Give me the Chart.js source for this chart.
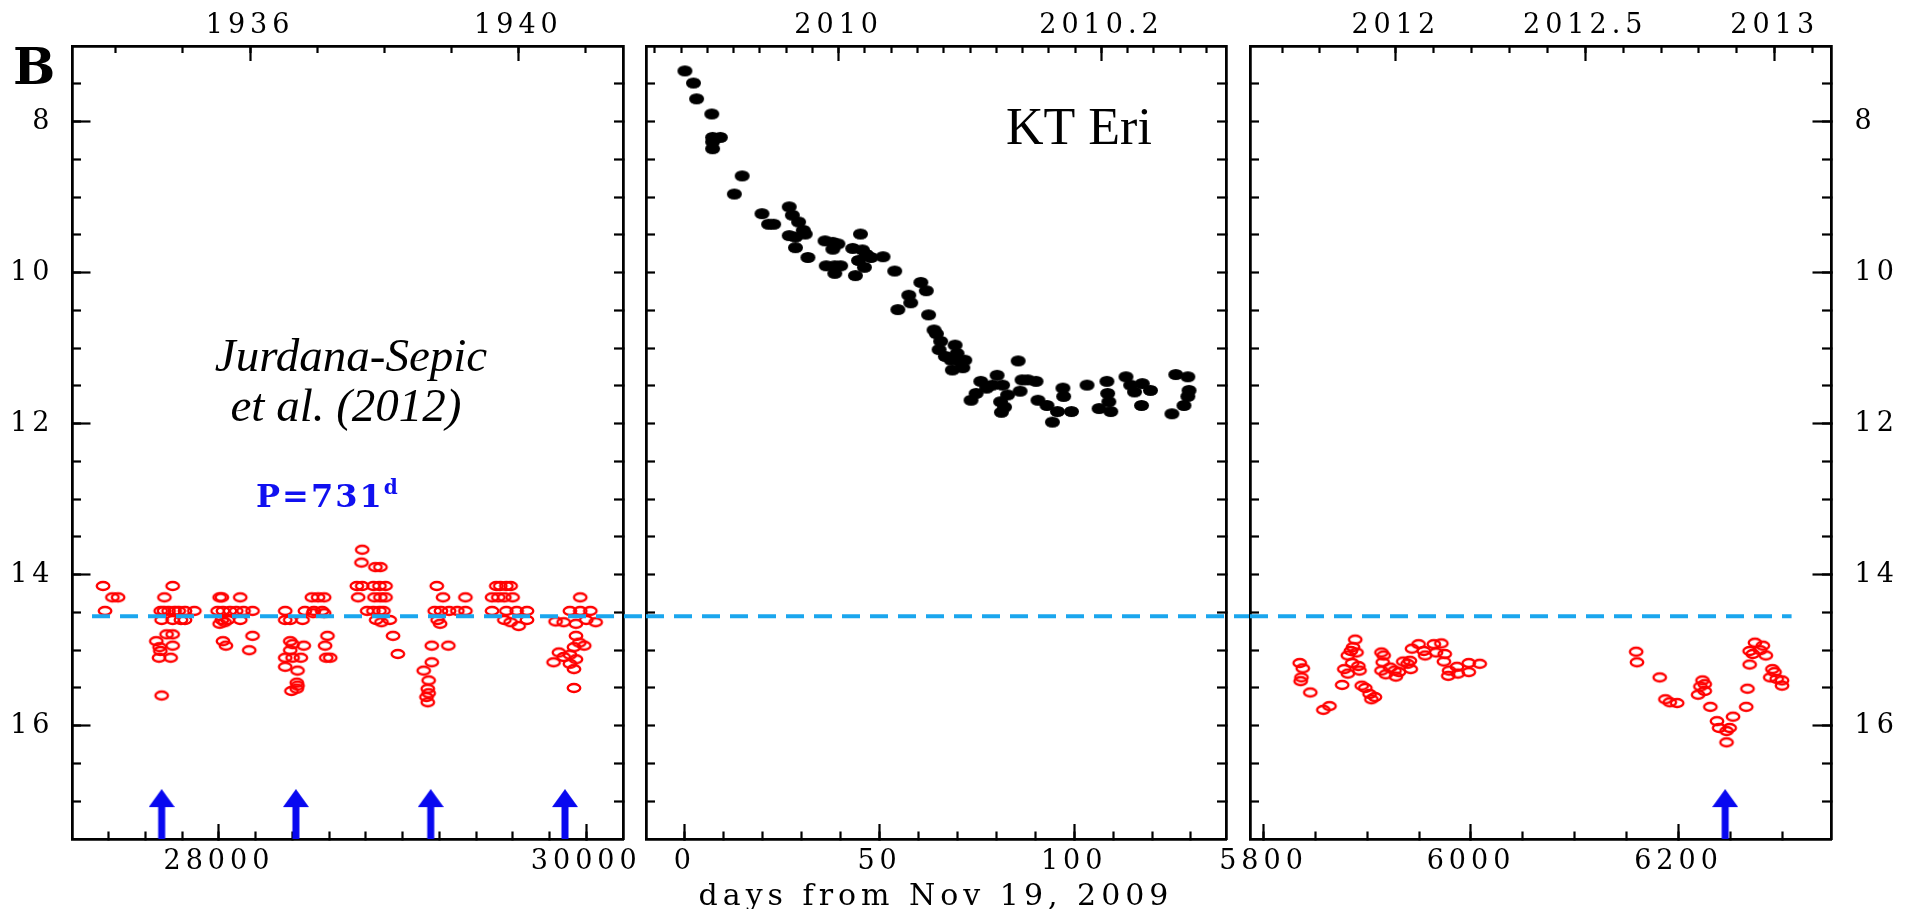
<!DOCTYPE html>
<html>
<head>
<meta charset="utf-8">
<title>KT Eri light curve</title>
<script src="https://cdn.jsdelivr.net/npm/chart.js@4.4.1/dist/chart.umd.min.js"></script>
<style>
  html, body { margin: 0; padding: 0; background: #fff; }
  #figure { position: relative; width: 1916px; height: 909px; overflow: hidden; }
  #figure canvas { position: absolute; left: 0; top: 0; }
</style>
</head>
<body>
<div id="figure">
  <canvas id="archival" width="1916" height="909"></canvas>
  <canvas id="outburst" width="1916" height="909"></canvas>
  <canvas id="recent" width="1916" height="909"></canvas>
</div>
<script>
// archival plates (Jurdana-Sepic et al. 2012), JD - 2400000
var plateJD = [
  27369, 27380, 27420, 27451,
  27688, 27659, 27677, 27681, 27674, 27737, 27703, 27748, 27683, 27701, 27726, 27759, 27781, 27815, 27866,
  27688, 27748, 27793, 27815, 27715, 27748, 27748,
  28004, 28016, 28116, 27993, 28022, 28060, 28094, 28134, 28183, 28016, 28049, 28116, 28004, 28031,
  28022, 28038, 28183, 28165,
  28361, 28468, 28517, 28562, 28361, 28388, 28455, 28506, 28540, 28573, 28513, 28573, 28388, 28401,
  28462, 28388, 28361, 28401, 28446, 28361, 28428, 28424, 28428, 28395, 28424, 28591, 28578, 28584, 28606,
  28780, 28776, 28852, 28879, 28751, 28780, 28841, 28874, 28907, 28758, 28847, 28879, 28907, 28807,
  28841, 28874, 28896, 28856, 28885, 28930, 28948, 28974,
  29186, 29220, 29342, 29175, 29209, 29253, 29298, 29342, 29191, 29204, 29159, 29249, 29159, 29115,
  29142, 29137, 29142, 29130, 29137,
  29510, 29532, 29565, 29588, 29487, 29521, 29554, 29599, 29487, 29565, 29621, 29677, 29554, 29588, 29632, 29677,
  29967, 29911, 29967, 30022, 29833, 29877, 29944, 30000, 30051, 29944, 29962, 29989, 29933, 29851,
  29877, 29911, 29944, 29822, 29911, 29933, 29933
];
var plateMag = [
  14.15, 14.48, 14.30, 14.30,
  15.60, 14.88, 14.96, 15.01, 15.10, 15.10, 14.30, 14.15, 14.48, 14.48, 14.48, 14.48, 14.48, 14.48, 14.48,
  14.60, 14.60, 14.60, 14.60, 14.79, 14.79, 14.94,
  14.30, 14.30, 14.30, 14.48, 14.48, 14.48, 14.48, 14.48, 14.48, 14.60, 14.60, 14.60, 14.65, 14.63,
  14.88, 14.94, 14.81, 15.00,
  14.48, 14.48, 14.48, 14.48, 14.60, 14.60, 14.60, 14.30, 14.30, 14.30, 14.51, 14.51, 14.88, 14.92,
  14.94, 15.00, 15.10, 15.10, 15.10, 15.22, 15.27, 15.43, 15.47, 15.54, 15.51, 14.81, 14.94, 15.10, 15.10,
  13.67, 13.84, 13.90, 13.90, 14.15, 14.15, 14.15, 14.15, 14.15, 14.30, 14.30, 14.30, 14.30, 14.48,
  14.48, 14.48, 14.48, 14.60, 14.63, 14.60, 14.81, 15.05,
  14.15, 14.30, 14.30, 14.48, 14.48, 14.48, 14.48, 14.48, 14.60, 14.65, 14.94, 14.94, 15.16, 15.27,
  15.40, 15.51, 15.57, 15.62, 15.69,
  14.15, 14.15, 14.15, 14.15, 14.30, 14.30, 14.30, 14.30, 14.48, 14.48, 14.48, 14.48, 14.60, 14.63, 14.68, 14.60,
  14.30, 14.48, 14.48, 14.48, 14.62, 14.63, 14.65, 14.60, 14.63, 14.81, 14.90, 14.94, 14.96, 15.03,
  15.09, 15.06, 15.12, 15.16, 15.18, 15.25, 15.50
];

// 2009 outburst, days from Nov 19, 2009
var outDay = [
  0, 2.2, 3.0, 6.9, 7.1, 7.1, 7.1, 9.1, 14.7, 12.7, 19.8, 21.5, 22.8, 26.8, 27.6, 29.2, 30.4, 30.9,
  26.8, 28.4, 28.4, 31.6, 36.0, 38.0, 39.3, 38.0, 36.3, 38.5, 40.0, 38.5, 43.1, 45.6, 45.1, 46.6,
  47.8, 44.6, 46.1, 43.8, 50.9, 53.9, 54.7, 57.5, 58.0, 60.6, 62.0, 62.6, 64.0, 64.6, 65.7, 65.3,
  66.9, 68.4, 69.4, 69.9, 70.7, 71.9, 68.7, 71.4, 73.5, 74.8, 76.0, 77.5, 79.0, 80.2, 81.6, 81.1,
  81.3, 82.1, 82.9, 85.6, 86.6, 86.1, 88.1, 90.2, 90.7, 93.0, 94.4, 95.7, 97.1, 97.3, 99.3, 103.3,
  106.4, 108.4, 108.6, 108.9, 109.4, 113.3, 114.5, 115.5, 117.3, 117.5, 119.6, 126.1, 129.2, 129.5,
  129.2, 128.2, 125.1
];
var outMag = [
  7.33, 7.49, 7.70, 7.90, 8.21, 8.27, 8.36, 8.21, 8.72, 8.96, 9.22, 9.36, 9.36, 9.13, 9.24, 9.33, 9.44, 9.49,
  9.51, 9.53, 9.67, 9.80, 9.58, 9.60, 9.62, 9.69, 9.91, 9.91, 9.91, 10.01, 9.68, 9.70, 9.49, 9.76,
  9.80, 9.84, 9.93, 10.04, 9.79, 9.98, 10.49, 10.30, 10.40, 10.13, 10.24, 10.56, 10.76, 10.81, 10.91, 11.02,
  11.11, 11.16, 10.96, 11.07, 11.18, 11.16, 11.29, 11.26, 11.69, 11.60, 11.44, 11.53, 11.49, 11.36, 11.49, 11.71,
  11.85, 11.78, 11.62, 11.17, 11.42, 11.57, 11.42, 11.44, 11.69, 11.76, 11.98, 11.84, 11.53, 11.64, 11.84, 11.49,
  11.80, 11.44, 11.60, 11.71, 11.84, 11.38, 11.49, 11.58, 11.76, 11.47, 11.56, 11.35, 11.38, 11.56,
  11.64, 11.76, 11.87
];

// recent photometry, JD - 2450000
var recentJD = [
  5834.9, 5837.9, 5836.6, 5835.8, 5845.1, 5857.7, 5863.6, 5875.8, 5877.9, 5881.3, 5881.3, 5884.2, 5886.3,
  5888.4, 5889.7, 5885.5, 5891.4, 5892.6, 5894.7, 5898.1, 5902.3, 5904.0, 5907.4, 5913.7, 5915.8, 5914.9,
  5913.7, 5917.9, 5922.1, 5926.3, 5927.6, 5930.5, 5934.7, 5938.9, 5941.9, 5941.1, 5943.2, 5949.5, 5954.5,
  5955.8, 5964.2, 5966.3, 5971.4, 5974.7, 5973.9, 5978.9, 5978.1, 5986.5, 5987.4, 5997.9, 5997.9, 6008.4,
  6159.2, 6160.0, 6181.9, 6187.4, 6191.6, 6198.7, 6218.9, 6221.1, 6223.2, 6225.3, 6225.3, 6230.7, 6237.1,
  6239.2, 6246.3, 6249.3, 6246.3, 6252.6, 6265.3, 6266.5, 6268.6, 6268.6, 6271.6, 6273.7, 6278.7, 6281.3,
  6284.2, 6290.5, 6292.6, 6288.4, 6294.7, 6299.8, 6299.8
];
var recentMag = [
  15.17, 15.24, 15.36, 15.41, 15.56, 15.79, 15.74, 15.46, 15.25, 15.31, 15.07, 15.01, 14.96,
  14.86, 15.03, 15.17, 15.21, 15.27, 15.47, 15.50, 15.58, 15.65, 15.62, 15.03, 15.07, 15.16,
  15.27, 15.32, 15.23, 15.27, 15.35, 15.29, 15.15, 15.18, 15.25, 15.14, 14.98, 14.92, 15.01,
  15.07, 14.92, 15.03, 14.91, 15.05, 15.15, 15.27, 15.34, 15.22, 15.31, 15.17, 15.29, 15.18,
  15.02, 15.16, 15.36, 15.65, 15.69, 15.70, 15.59, 15.48, 15.40, 15.45, 15.54, 15.75, 15.94,
  16.03, 16.07, 16.03, 16.22, 15.88, 15.75, 15.51, 15.19, 15.01, 15.05, 14.90, 15.00, 14.94,
  15.07, 15.25, 15.29, 15.36, 15.38, 15.40, 15.47
];

// minima marked with arrows (P = 731 d)
var plateMinima = [27688, 28419, 29153, 29884];
var recentMinima = [6245];
var arrowMag = 17.17;

// dashed quiescence level and its extent in each panel
var quietMag = 14.55;
var quietPlates = [27309, 30335];
var quietOutburst = [-10, 145];
var quietRecent = [5787, 6309];

// axes
var magRange = [7, 17.5];
var magTicks = [8, 10, 12, 14, 16];
var magLabels = ['8', '10', '12', '14', '16'];

var plateRange = [27200, 30200];
var plateTicks = [28000, 30000];
var plateLabels = ['28000', '30000'];
var plateYearTicks = [1936, 1940];
var plateYearLabels = ['1936', '1940'];

var outRange = [-10, 139];
var outTicks = [0, 50, 100];
var outLabels = ['0', '50', '100'];
var outYearTicks = [2010, 2010.2];
var outYearLabels = ['2010', '2010.2'];

var recentRange = [5787, 6347];
var recentTicks = [5800, 6000, 6200];
var recentLabels = ['5800', '6000', '6200'];
var recentYearTicks = [2012, 2012.5, 2013];
var recentYearLabels = ['2012', '2012.5', '2013'];

function plateYear(jd) { return 1936 + (jd - 28169.5) / 365.25; }
function outYear(d) { return 2010 + (d - 39.5) / 337.5; }
function recentYear(jd) { return 2012 + (jd - 5927.5) / 365.25; }

function steps(a, b, d) {
  var out = [];
  for (var v = a; v <= b + d / 1000; v += d) out.push(Math.round(v * 1000) / 1000);
  return out;
}

var INK = '#000000';
var LABEL_FONT = { family: '"DejaVu Serif", serif', size: 27 };

// one axis = one set of inward ticks; majors (outer, weight 1) and minors (inner, size 0) share a side
function axis(side, range, values, labels, len, pad, reverse, size) {
  var horizontal = side === 'top' || side === 'bottom';
  return {
    type: 'linear',
    axis: horizontal ? 'x' : 'y',
    position: side,
    weight: labels ? 1 : 0,
    min: range[0],
    max: range[1],
    reverse: !!reverse,
    afterBuildTicks: function (s) {
      s.ticks = values.map(function (v) { return { value: v }; });
    },
    afterFit: function (s) {
      if (horizontal) s.height = size || 0; else s.width = size || 0;
      s.paddingLeft = s.paddingRight = s.paddingTop = s.paddingBottom = 0;
    },
    grid: { display: true, drawOnChartArea: false, drawTicks: true, tickLength: -len, tickWidth: 2.2, tickColor: INK },
    border: { display: true, color: INK, width: 2.5 },
    ticks: {
      display: !!labels, autoSkip: false, maxRotation: 0, minRotation: 0,
      padding: pad, color: INK, font: LABEL_FONT,
      callback: function (v, i) { return labels ? labels[i] : ''; }
    }
  };
}

function frame(o) {
  var top = [o.year(o.range[0]), o.year(o.range[1])];
  var magMinor = steps(7.5, 17, 0.5);
  return {
    x: axis('bottom', o.range, o.ticks, o.labels, 15, 22, false, 60),
    xMinor: axis('bottom', o.range, o.minor, null, 7.5, 0),
    xTop: axis('top', top, o.yearTicks, o.yearLabels, 15, 19, false, 46),
    xTopMinor: axis('top', top, o.yearMinor, null, 7, 0),
    y: axis('left', magRange, magTicks, o.left ? magLabels : [], 18.5, 36, true, o.left ? 72 : 0),
    yMinor: axis('left', magRange, magMinor, null, 9, 0, true),
    yRight: axis('right', magRange, magTicks, o.right ? magLabels : [], 18.5, 42, true, o.right ? 80 : 0),
    yRightMinor: axis('right', magRange, magMinor, null, 9, 0, true)
  };
}

function mark(w, h, fill, stroke, lw) {
  var c = document.createElement('canvas');
  c.width = w + 6; c.height = h + 6;
  var g = c.getContext('2d');
  g.beginPath();
  g.ellipse(c.width / 2, c.height / 2, w / 2, h / 2, 0, 0, Math.PI * 2);
  if (fill) { g.fillStyle = fill; g.fill(); }
  if (stroke) { g.lineWidth = lw; g.strokeStyle = stroke; g.stroke(); }
  return c;
}

function arrowMark() {
  var c = document.createElement('canvas');
  c.width = 26; c.height = 50;
  var g = c.getContext('2d');
  g.fillStyle = '#0808f0';
  g.beginPath(); g.moveTo(0, 18); g.lineTo(13, 0); g.lineTo(26, 18); g.closePath(); g.fill();
  g.fillRect(9.5, 17, 7, 33);
  return c;
}

var ring = mark(12.5, 8, null, '#ff0000', 2.4);
var dot = mark(15, 11, '#000000', null, 0);
var arrow = arrowMark();

function pairs(xs, ys) {
  return xs.map(function (x, i) { return { x: x, y: ys[i] }; });
}

function quietLine(span) {
  return {
    data: [{ x: span[0], y: quietMag }, { x: span[1], y: quietMag }],
    showLine: true, pointRadius: 0, borderColor: '#1aa6ee', borderWidth: 4,
    borderDash: [18, 10], clip: false, order: 0, xAxisID: 'x', yAxisID: 'y'
  };
}
function points(xs, ys, style) {
  return { data: pairs(xs, ys), pointStyle: style, pointRadius: 6, order: 1, xAxisID: 'x', yAxisID: 'y' };
}
function arrows(xs) {
  return {
    data: xs.map(function (x) { return { x: x, y: arrowMag }; }),
    pointStyle: arrow, pointRadius: 6, order: 2, xAxisID: 'x', yAxisID: 'y'
  };
}

// PGPLOT style labels are widely spaced
var spacing = { id: 'spacing', beforeDraw: function (chart) { chart.ctx.letterSpacing = '5px'; } };

function notes(items) {
  return {
    id: 'notes',
    afterDraw: function (chart) {
      var ctx = chart.ctx;
      items.forEach(function (t) {
        ctx.save();
        ctx.letterSpacing = t.spacing || '0px';
        ctx.font = t.font;
        ctx.fillStyle = t.color || INK;
        ctx.textAlign = t.align || 'left';
        ctx.textBaseline = 'alphabetic';
        ctx.fillText(t.text, t.x, t.y);
        if (t.sup) {
          var w = ctx.measureText(t.text).width;
          ctx.font = t.supFont;
          ctx.textAlign = 'left';
          ctx.fillText(t.sup, t.x + w, t.y - 13);
        }
        ctx.restore();
      });
    }
  };
}

function panel(id, padding, scales, datasets, texts) {
  return new Chart(document.getElementById(id), {
    type: 'scatter',
    data: { datasets: datasets },
    options: {
      responsive: false,
      animation: false,
      events: [],
      layout: { padding: padding, autoPadding: false },
      plugins: { legend: { display: false }, tooltip: { enabled: false } },
      scales: scales
    },
    plugins: [spacing, notes(texts)]
  });
}

panel('archival', { left: 0, right: 1293, top: 0, bottom: 10 },
  frame({
    range: plateRange, ticks: plateTicks, labels: plateLabels, minor: steps(27400, 30000, 200),
    year: plateYear, yearTicks: plateYearTicks, yearLabels: plateYearLabels, yearMinor: steps(1934, 1941, 1),
    left: true
  }),
  [quietLine(quietPlates), points(plateJD, plateMag, ring), arrows(plateMinima)],
  [
    { text: 'B', x: 13, y: 84, font: 'bold 50px "DejaVu Serif", serif' },
    { text: 'Jurdana-Sepic', x: 351, y: 371, align: 'center', font: 'italic 47px "Liberation Serif", serif' },
    { text: 'et al. (2012)', x: 346, y: 421, align: 'center', font: 'italic 47px "Liberation Serif", serif' },
    { text: 'P=731', x: 256, y: 507, font: 'bold 32px "DejaVu Serif", serif', color: '#1010f0', spacing: '2px',
      sup: 'd', supFont: 'bold 20px "DejaVu Serif", serif' }
  ]);

var outScales = frame({
  range: outRange, ticks: outTicks, labels: outLabels, minor: steps(0, 130, 10),
  year: outYear, yearTicks: outYearTicks, yearLabels: outYearLabels, yearMinor: steps(2009.86, 2010.28, 0.02)
});
outScales.x.title = {
  display: true, text: 'days from Nov 19, 2009', color: INK,
  font: { family: '"DejaVu Serif", serif', size: 30 }, padding: { top: 0, bottom: -16 }
};

panel('outburst', { left: 646, right: 690, top: 0, bottom: 10 },
  outScales,
  [quietLine(quietOutburst), points(outDay, outMag, dot)],
  [{ text: 'KT Eri', x: 1006, y: 144, font: '52px "Liberation Serif", serif' }]);

panel('recent', { left: 1250, right: 5, top: 0, bottom: 10 },
  frame({
    range: recentRange, ticks: recentTicks, labels: recentLabels, minor: steps(5800, 6300, 50),
    year: recentYear, yearTicks: recentYearTicks, yearLabels: recentYearLabels, yearMinor: steps(2011.7, 2013.1, 0.1),
    right: true
  }),
  [quietLine(quietRecent), points(recentJD, recentMag, ring), arrows(recentMinima)],
  []);
</script>
</body>
</html>
